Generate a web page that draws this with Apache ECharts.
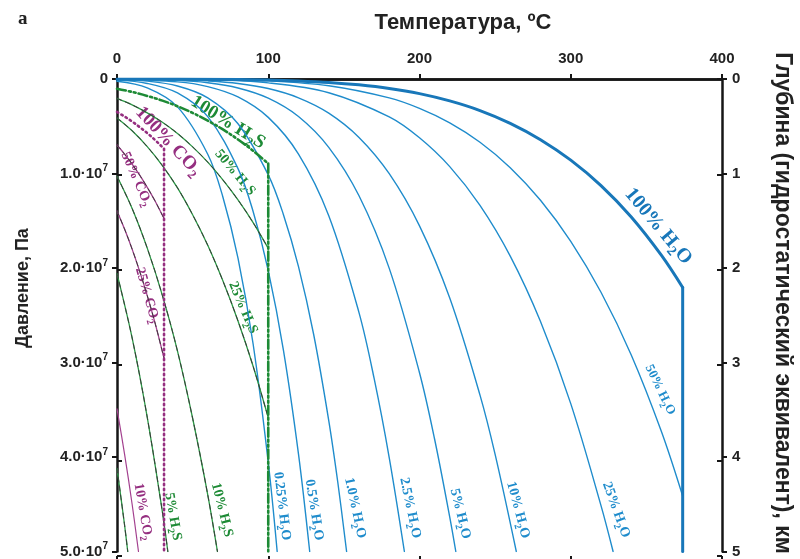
<!DOCTYPE html>
<html><head><meta charset="utf-8">
<script src="https://cdn.jsdelivr.net/npm/echarts@6/dist/echarts.min.js"></script>
<style>html,body{margin:0;padding:0;background:#fff}#c{width:800px;height:559px}</style>
</head><body><div id="c"></div>
<script>
// ---- tick labels ----
const tempTicks = [0, 100, 200, 300, 400];
const pressureTickLabels = ['0', '1.0·10{s|7}', '2.0·10{s|7}', '3.0·10{s|7}', '4.0·10{s|7}', '5.0·10{s|7}'];
const depthTickLabels = ['0', '1', '2', '3', '4', '5'];

// ---- curves: [temperature °C, pressure MPa] ----
const h2o100 = [[0,0],[40,0.01],[80,0.05],[100,0.10],[120,0.20],[140,0.36],[160,0.62],[180,1.00],[200,1.55],[220,2.32],[240,3.34],[260,4.69],[280,6.42],[300,8.59],[320,11.28],[340,14.60],[360,18.67],[374,22.06]];
const h2oCrit = [[374,22.06],[374,50]];
const h2o50 = [[0,0],[60,0.04],[100,0.20],[140,0.72],[180,2.00],[200,3.11],[220,4.64],[240,6.69],[260,9.38],[280,12.83],[300,17.18],[320,22.57],[340,29.20],[360,37.33],[374,44.13]];
const h2o25 = [[0,0],[60,0.08],[100,0.41],[140,1.45],[180,4.01],[200,6.22],[220,9.27],[240,13.38],[260,18.75],[280,25.67],[300,34.35],[320,45.14],[328,50]];
const h2o10 = [[0,0.01],[40,0.07],[60,0.20],[80,0.47],[100,1.01],[120,1.99],[140,3.61],[160,6.18],[180,10.02],[200,15.54],[220,23.18],[240,33.45],[250,39.73],[264,50]];
const h2o5 = [[0,0.01],[40,0.15],[60,0.40],[80,0.95],[100,2.03],[120,3.97],[140,7.23],[160,12.36],[180,20.04],[200,31.08],[210,38.12],[220,46.36],[224,50]];
const h2o2p5 = [[0,0.02],[40,0.30],[60,0.80],[80,1.90],[100,4.06],[120,7.94],[140,14.46],[160,24.72],[170,31.69],[180,40.08],[190,50]];
const h2o1 = [[0,0.06],[20,0.23],[40,0.74],[60,1.99],[80,4.74],[100,10.14],[110,14.33],[120,19.85],[130,27.01],[140,36.14],[146,42.7],[151.8,50]];
const h2o0p5 = [[0,0.12],[20,0.47],[40,1.48],[60,3.98],[80,9.48],[90,14.02],[100,20.28],[110,28.66],[120,39.70],[127.4,50]];
const h2o0p25 = [[0,0.24],[20,0.94],[40,2.95],[60,7.96],[70,12.48],[80,18.96],[90,28.04],[100,40.56],[105.9,50]];

const h2s100 = [[0,1.03],[10,1.37],[20,1.79],[30,2.29],[40,2.88],[50,3.59],[60,4.40],[70,5.34],[80,6.40],[90,7.60],[100,8.96]];
const h2sCrit = [[100,8.96],[100,50]];
const h2s50 = [[0,2.06],[10,2.74],[20,3.58],[30,4.58],[40,5.76],[50,7.18],[60,8.80],[70,10.68],[80,12.80],[90,15.20],[100,17.92]];
const h2s25 = [[0,4.12],[10,5.48],[20,7.16],[30,9.16],[40,11.52],[50,14.36],[60,17.60],[70,21.36],[80,25.60],[90,30.40],[100,35.84]];
const h2s10 = [[0,10.3],[10,13.7],[20,17.9],[30,22.9],[40,28.8],[50,35.9],[60,44.0],[66.4,50]];
const h2s5 = [[0,20.6],[10,27.4],[20,35.8],[30,45.8],[33.6,50]];
const h2s2p5 = [[0,41.2],[5,47.2],[7.1,50]];

const co2100 = [[0,3.49],[5,3.97],[10,4.50],[15,5.09],[20,5.73],[25,6.43],[30,7.21],[31.1,7.38]];
const co2Crit = [[31.1,7.38],[31.1,50]];
const co250 = [[0,6.98],[5,7.94],[10,9.00],[15,10.18],[20,11.46],[25,12.86],[30,14.42],[31.1,14.76]];
const co225 = [[0,13.96],[5,15.88],[10,18.00],[15,20.36],[20,22.92],[25,25.72],[30,28.84],[31.1,29.52]];
const co210 = [[0,34.9],[5,39.7],[10,45.0],[14.2,50]];

// ---- curve label texts ----
const curveLabels = ['100% H{b|2}S','100% CO{b|2}','50% H{b|2}S','50% CO{b|2}','25% H{b|2}S','25% CO{b|2}','10% CO{b|2}','5% H{b|2}S','10% H{b|2}S',
  '0.25% H{b|2}O','0.5% H{b|2}O','1.0% H{b|2}O','2.5% H{b|2}O','5% H{b|2}O','10% H{b|2}O','25% H{b|2}O','50% H{b|2}O','100% H{b|2}O'];

// ---- styling / placement (not data) ----
const BLUE = '#1f8ccc', BLUE_D = '#1877b9', GREEN = '#2a9a45', GREEN_D = '#1d8a35', MAG = '#a3418f', MAG_D = '#952f80';
const labelPlace = [
  {at:[73.4,4.6], rot:-32, size:19, color:GREEN_D},
  {at:[33.9,6.6], rot:-47, size:19, color:MAG_D},
  {at:[78.0,9.9], rot:-50, size:14, color:GREEN_D},
  {at:[12.8,10.6], rot:-66, size:14, color:MAG_D},
  {at:[83.3,24.2], rot:-67, size:14, color:GREEN_D},
  {at:[20.0,22.9], rot:-74, size:14, color:MAG_D},
  {at:[17.2,45.8], rot:-80, size:14, color:MAG_D},
  {at:[37.0,46.3], rot:-80, size:14, color:GREEN_D},
  {at:[69.4,45.6], rot:-76, size:14, color:GREEN_D},
  {at:[109.1,45.2], rot:-83, size:14, color:BLUE},
  {at:[130.3,45.6], rot:-81, size:14, color:BLUE},
  {at:[157.4,45.4], rot:-78, size:14, color:BLUE},
  {at:[193.8,45.4], rot:-78, size:14, color:BLUE},
  {at:[226.9,46.0], rot:-76, size:14, color:BLUE},
  {at:[265.2,45.6], rot:-75, size:14, color:BLUE},
  {at:[330.0,45.6], rot:-70, size:14, color:BLUE},
  {at:[359.1,32.9], rot:-64, size:13, color:BLUE},
  {at:[357.8,15.6], rot:-50, size:20, color:BLUE_D}
];

function line(data, color, width, type, smooth) {
  return {type:'line', data:data, xAxisIndex:0, yAxisIndex:0, showSymbol:false, symbol:'none', silent:true,
    smooth: smooth === undefined ? 0.35 : smooth, clip:true,
    lineStyle:{color:color, width:width, type:type || 'solid', cap:'round'}};
}
function dashedPair(data, color) {
  return [line(data, color, 1.3, 'solid'), line(data, '#3a3a3a', 1, [5,4])];
}

const series = [].concat(
  [h2o0p25, h2o0p5, h2o1, h2o2p5, h2o5, h2o10, h2o25, h2o50].map(d => line(d, BLUE, 1.4)),
  [line(h2o100, BLUE_D, 3), line(h2oCrit, BLUE_D, 3, 'solid', false)],
  dashedPair(h2s50, GREEN), dashedPair(h2s25, GREEN), dashedPair(h2s10, GREEN), dashedPair(h2s5, GREEN), dashedPair(h2s2p5, GREEN),
  dashedPair(co250, MAG), dashedPair(co225, MAG),
  [line(co210, MAG, 1.2)],
  [line(h2s100, GREEN_D, 2.6, [9,3,2,3,2,3]), line(h2sCrit, GREEN_D, 2.6, [9,3,2,3,2,3], false)],
  [line(co2100, MAG_D, 2.6, [1.5,3.5]), line(co2Crit, MAG_D, 2.6, [1.5,3.5], false)]
);

const AX = '#161616';
const tickFont = {fontFamily:'Liberation Sans', fontWeight:'bold', fontSize:15, color:'#222'};
const rect = {left:117, right:78, top:79, bottom:3};
const option = {
  animation:false,
  grid:[Object.assign({}, rect), Object.assign({}, rect), Object.assign({}, rect)],
  xAxis:[
    {gridIndex:0, type:'value', position:'top', min:0, max:400, interval:100,
      axisLine:{lineStyle:{color:AX, width:2.5}}, axisTick:{length:5, lineStyle:{color:AX, width:2}},
      axisLabel:Object.assign({margin:13, formatter: v => tempTicks.indexOf(v) >= 0 ? String(v) : ''}, tickFont), splitLine:{show:false}},
    {gridIndex:1, type:'value', position:'bottom', min:0, max:400, interval:100,
      axisLine:{lineStyle:{color:AX, width:2.5}}, axisTick:{show:false}, axisLabel:{show:false}, splitLine:{show:false}},
    {gridIndex:2, type:'value', position:'top', min:0, max:400, interval:100,
      axisLine:{show:false}, axisTick:{inside:true, length:5, lineStyle:{color:AX, width:2}}, axisLabel:{show:false}, splitLine:{show:false}}
  ],
  yAxis:[
    {gridIndex:0, type:'value', position:'left', inverse:true, min:0, max:50, interval:10,
      axisLine:{lineStyle:{color:AX, width:2.5}}, axisTick:{length:5, lineStyle:{color:AX, width:2}},
      axisLabel:Object.assign({margin:9, formatter: v => pressureTickLabels[Math.round(v/10)],
        rich:{s:{fontSize:10, fontWeight:'bold', fontFamily:'Liberation Sans', color:'#222', verticalAlign:'top', lineHeight:20}}}, tickFont),
      splitLine:{show:false}},
    {gridIndex:0, type:'value', position:'right', inverse:true, min:0, max:5, interval:1,
      axisLine:{lineStyle:{color:AX, width:2.5}}, axisTick:{length:5, lineStyle:{color:AX, width:2}},
      axisLabel:Object.assign({margin:10, formatter: v => depthTickLabels[Math.round(v)]}, tickFont), splitLine:{show:false}},
    {gridIndex:1, type:'value', position:'left', inverse:true, min:0, max:50, interval:10,
      axisLine:{show:false}, axisTick:{inside:true, length:5, lineStyle:{color:AX, width:2}}, axisLabel:{show:false}, splitLine:{show:false}},
    {gridIndex:1, type:'value', position:'right', inverse:true, min:0, max:5, interval:1,
      axisLine:{show:false}, axisTick:{inside:true, length:5, lineStyle:{color:AX, width:2}}, axisLabel:{show:false}, splitLine:{show:false}},
    {gridIndex:2, type:'value', show:false, min:0, max:1}
  ],
  series: series
};

const chart = echarts.init(document.getElementById('c'), null, {renderer:'canvas'});
chart.setOption(option);

const graphics = [
  {type:'text', left:18, top:10, style:{text:'a', font:'bold 19px "Liberation Serif"', fill:'#222'}},
  {type:'text', x:463, y:23, style:{text:'Температура, ºC', font:'bold 22px "Liberation Sans"', fill:'#222', align:'center', verticalAlign:'middle'}},
  {type:'text', x:23, y:288, rotation:Math.PI/2, style:{text:'Давление, Па', font:'bold 18px "Liberation Sans"', fill:'#222', align:'center', verticalAlign:'middle'}},
  {type:'text', x:782, y:303, rotation:-Math.PI/2, style:{text:'Глубина (гидростатический эквивалент), км', font:'bold 23px "Liberation Sans"', fill:'#222', align:'center', verticalAlign:'middle'}}
];
curveLabels.forEach((txt, i) => {
  const p = labelPlace[i];
  const px = chart.convertToPixel({xAxisIndex:0, yAxisIndex:0}, p.at);
  graphics.push({type:'text', x:px[0], y:px[1], rotation:p.rot*Math.PI/180, silent:true,
    style:{text:txt, fill:p.color, fontFamily:'Liberation Serif', fontWeight:'bold', fontSize:p.size,
      align:'center', verticalAlign:'middle', lineHeight:p.size+6,
      rich:{b:{fontFamily:'Liberation Serif', fontWeight:'bold', fontSize:Math.round(p.size*0.7), fill:p.color, verticalAlign:'bottom', lineHeight:p.size+6}}}});
});
chart.setOption({graphic:graphics});
</script>
</body></html>
